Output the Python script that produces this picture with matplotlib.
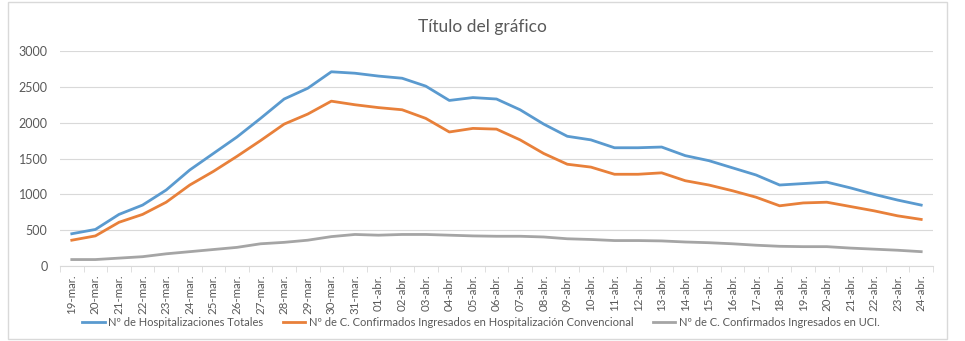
import matplotlib.pyplot as plt
from matplotlib.patches import Rectangle

# Fechas (eje x)
fechas = [f"{d}-mar." for d in range(19, 32)] + [f"{d:02d}-abr." for d in range(1, 25)]

hosp_totales = [450, 510, 720, 850, 1060, 1340, 1570, 1800, 2060, 2330, 2480, 2710, 2690,
                2650, 2620, 2510, 2310, 2350, 2330, 2180, 1980, 1810, 1760, 1650, 1650, 1660,
                1540, 1470, 1370, 1270, 1130, 1150, 1170, 1090, 1000, 920, 850]
hosp_convencional = [360, 420, 610, 720, 890, 1130, 1320, 1530, 1750, 1980, 2120, 2300, 2250,
                     2210, 2180, 2060, 1870, 1920, 1910, 1760, 1570, 1420, 1380, 1280, 1280, 1300,
                     1190, 1130, 1050, 960, 840, 880, 890, 830, 770, 700, 650]
ingresos_uci = [90, 90, 110, 130, 170, 200, 230, 260, 310, 330, 360, 410, 440,
                430, 440, 440, 430, 420, 415, 415, 405, 380, 370, 355, 355, 350,
                335, 325, 310, 290, 275, 270, 270, 250, 235, 220, 200]

series = [
    ("Nº de Hospitalizaciones Totales", hosp_totales, "#5A9ACF"),
    ("Nº de C. Confirmados Ingresados en Hospitalización Convencional", hosp_convencional, "#E8803A"),
    ("Nº de C. Confirmados Ingresados en UCI.", ingresos_uci, "#A5A5A5"),
]

plt.rcParams['font.family'] = ['Lato', 'DejaVu Sans']
W, H = 965, 341
fig = plt.figure(figsize=(W / 100, H / 100), dpi=100)

# marco exterior
fig.patches.append(Rectangle((8 / W, 2 / H), (947 - 8) / W, (339 - 2) / H, transform=fig.transFigure,
                             fill=False, edgecolor="#D9D9D9", linewidth=1))

ax = fig.add_axes([60 / W, 1 - 266 / H, (933 - 60) / W, (266 - 51) / H])
x = list(range(len(fechas)))
for nombre, vals, color in series:
    ax.plot(x, vals, color=color, linewidth=2.0, label=nombre, solid_joinstyle='round')

ax.set_xlim(-0.5, len(fechas) - 0.5)
ax.set_ylim(0, 3000)
ax.set_yticks(range(0, 3001, 500))
ax.grid(axis='y', color="#D9D9D9", linewidth=0.8)
ax.set_axisbelow(True)
for s in ['top', 'right', 'left']:
    ax.spines[s].set_visible(False)
ax.spines['bottom'].set_color("#D9D9D9")

ax.set_xticks(x)
ax.set_xticklabels(fechas, rotation=90, fontsize=8.3, color="#595959")
ax.tick_params(axis='x', length=0, pad=6)
ax.set_xticks([i - 0.5 for i in range(len(fechas) + 1)], minor=True)
ax.tick_params(axis='x', which='minor', length=4, color="#D9D9D9")
ax.tick_params(axis='y', length=0, labelsize=9, labelcolor="#595959", pad=9)

fig.text(482 / W, 1 - 27 / H, "Título del gráfico", ha='center', va='center',
         fontsize=12.5, color="#595959")

fig.legend(loc='center', bbox_to_anchor=(481 / W, 1 - 322 / H), ncol=3, frameon=False,
           fontsize=8, labelcolor="#595959", handlelength=2.0, columnspacing=1.8,
           handletextpad=0.3)

fig.savefig("out.png", dpi=100, facecolor="white")
